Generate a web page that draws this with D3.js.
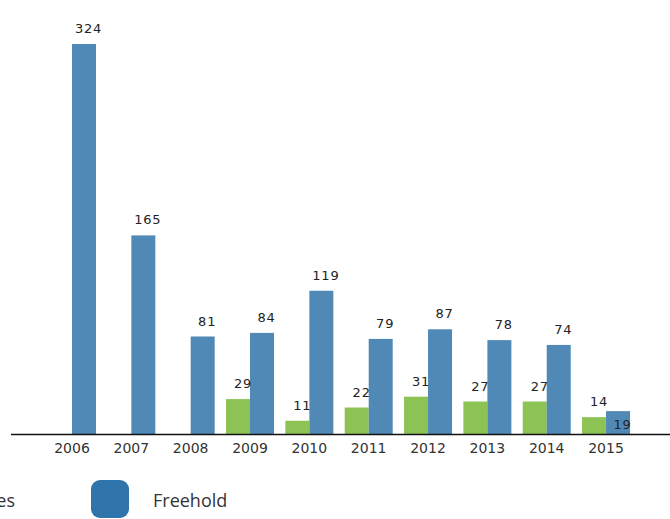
<!DOCTYPE html>
<html><head><meta charset="utf-8">
<script src="https://cdn.jsdelivr.net/npm/d3@7"></script>
<style>html,body{margin:0;padding:0;background:#fff;overflow:hidden}</style>
</head><body>
<svg id="c" width="670" height="519"></svg>
<script>
const years = ["2006","2007","2008","2009","2010","2011","2012","2013","2014","2015"];
const leases = [null,null,null,29,11,22,31,27,27,14];
const freehold = [324,165,81,84,119,79,87,78,74,19];
const seriesNames = ["Leases","Freehold"];
const colors = {green:"#8dc255", blue:"#5089b5", legendBlue:"#2f74ab"};

const svg = d3.select("#c");
const baseY = 434;
const x = d3.scaleBand().domain(years).range([42.3, 635.7]).padding(0);
const sub = d3.scaleBand().domain(["g","b"]).range([5.7, 53.7]);
const y = d3.scaleLinear().domain([0, 324]).range([baseY, 44]);

const data = years.map((yr,i)=>({yr, g:leases[i], b:freehold[i]}));

// bars
svg.append("g").selectAll("rect").data(data.filter(d=>d.g!=null)).join("rect")
  .attr("x", d=>x(d.yr)+sub("g")).attr("width", sub.bandwidth())
  .attr("y", d=>y(d.g)).attr("height", d=>baseY-y(d.g)).attr("fill", colors.green);
svg.append("g").selectAll("rect").data(data).join("rect")
  .attr("x", d=>x(d.yr)+sub("b")).attr("width", sub.bandwidth())
  .attr("y", d=>y(d.b)).attr("height", d=>baseY-y(d.b)).attr("fill", colors.blue);

// labels
const lab = svg.append("g").attr("font-family","DejaVu Sans, Verdana, sans-serif")
  .attr("font-size","13px").attr("fill","#222").attr("text-anchor","middle").attr("letter-spacing","0.8");
lab.selectAll("text.g").data(data.filter(d=>d.g!=null)).join("text")
  .attr("x", d=>x(d.yr)+sub("g")+sub.bandwidth()/2+5)
  .attr("y", d=>y(d.g)-11).text(d=>d.g);
lab.selectAll("text.b").data(data).join("text")
  .attr("x", d=>x(d.yr)+sub("b")+sub.bandwidth()/2+4.5)
  .attr("y", d=> d.b < 20 ? baseY-5 : y(d.b)-11).text(d=>d.b);

// axis
const ax = svg.append("g").attr("transform",`translate(0,${baseY})`)
  .call(d3.axisBottom(x).tickSize(0).tickPadding(9));
ax.select(".domain").remove();
ax.selectAll("text").attr("font-family","DejaVu Sans, Verdana, sans-serif")
  .attr("font-size","14px").attr("fill","#333");
svg.append("line").attr("x1",11).attr("x2",670).attr("y1",baseY+0.5).attr("y2",baseY+0.5)
  .attr("stroke","#111").attr("stroke-width",1.5);

// legend
const lg = svg.append("g").attr("font-family","Open Sans, Noto Sans, sans-serif").attr("font-size","18px").attr("fill","#333");
lg.append("rect").attr("x",-80).attr("y",480).attr("width",38).attr("height",38).attr("rx",9).attr("fill",colors.green);
lg.append("text").attr("x",15).attr("y",507).attr("text-anchor","end").text(seriesNames[0]);
lg.append("rect").attr("x",91).attr("y",480).attr("width",38).attr("height",38).attr("rx",9).attr("fill",colors.legendBlue);
lg.append("text").attr("x",153).attr("y",507).text(seriesNames[1]);
</script>
</body></html>
